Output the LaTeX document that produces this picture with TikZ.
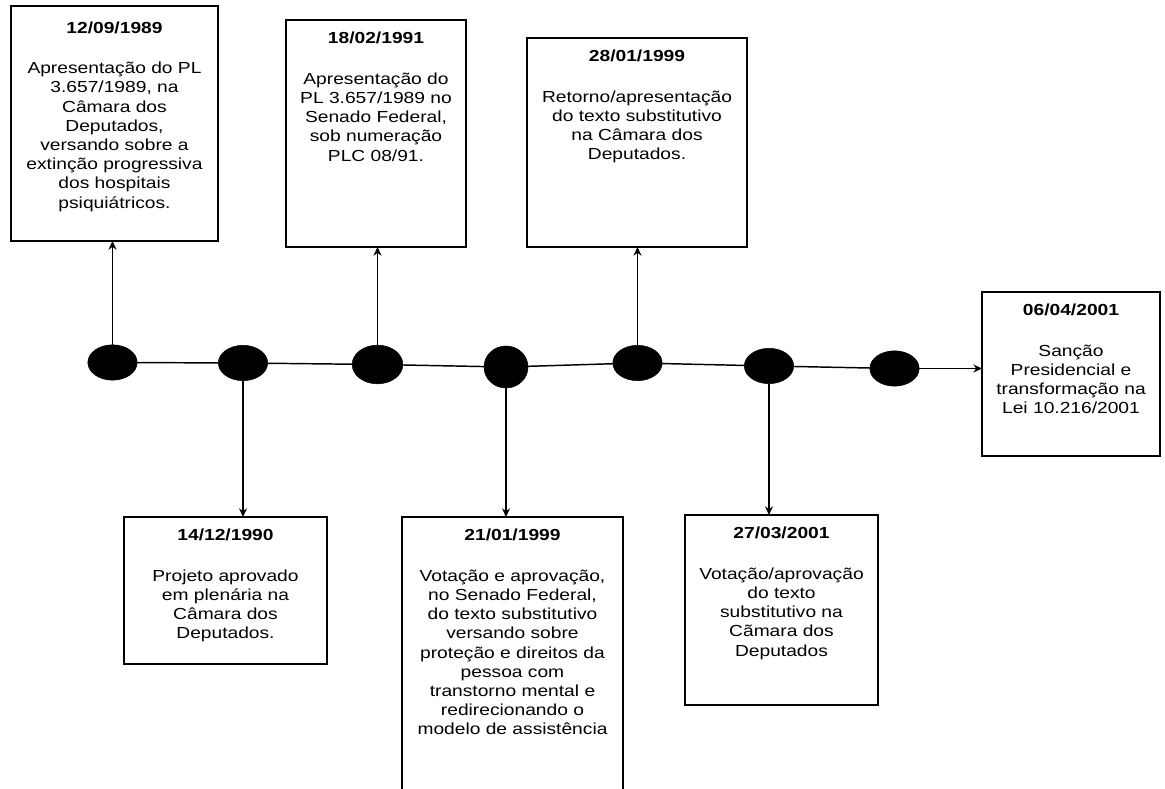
\documentclass[tikz,border=0pt]{standalone}
\usepackage{fontspec}
\setmainfont[FakeStretch=1.2]{Liberation Sans}
\usetikzlibrary{arrows.meta,positioning,shapes.geometric}

\begin{document}
\begin{tikzpicture}[
    x=0.75pt, y=0.75pt,
    evt/.style={draw, line width=1.1pt, fill=white, inner sep=0pt, outer sep=0pt},
    dot/.style={ellipse, draw, fill=black, inner sep=0pt, outer sep=0pt,
                minimum width=37pt, minimum height=26.5pt},
    txt/.style={align=center, inner sep=0pt, font=\fontsize{12pt}{14.4pt}\selectfont},
    link/.style={line width=1.1pt},
    arr/.style={line width=1.1pt, -{Stealth[length=6.5pt, width=6pt]}}
]
    \useasboundingbox (0,0) rectangle (1165,789);

    % linha do tempo
    \node[dot] (e1) at (112.5,426.5) {};
    \node[dot] (e2) at (243,426) {};
    \node[dot, minimum width=38pt, minimum height=29pt] (e3) at (377.5,424.5) {};
    \node[dot, minimum width=33pt, minimum height=31.5pt] (e4) at (506,422) {};
    \node[dot] (e5) at (637.5,426) {};
    \node[dot] (e6) at (769,423) {};
    \node[dot] (e7) at (894.5,420.5) {};

    % caixas de cima
    \node[evt, minimum width=155.25pt, minimum height=176.25pt] (b1) at (114.5,665.5) {};
    \node[txt, below=11.5pt of b1.north] (t1) {\textbf{12/09/1989}\\[16pt]
        Apresentação do PL\\3.657/1989, na\\Câmara dos\\Deputados,\\versando sobre a\\extinção progressiva\\dos hospitais\\psiquiátricos.};

    \node[evt, minimum width=135pt, minimum height=170.25pt] (b2) at (376,655.5) {};
    \node[txt, below=9pt of b2.north] (t2) {\textbf{18/02/1991}\\[16pt]
        Apresentação do\\PL 3.657/1989 no\\Senado Federal,\\sob numeração\\PLC 08/91.};

    \node[evt, minimum width=165pt, minimum height=156.75pt] (b3) at (637,646.5) {};
    \node[txt, below=9pt of b3.north] (t3) {\textbf{28/01/1999}\\[16pt]
        Retorno/apresentação\\do texto substitutivo\\na Câmara dos\\Deputados.};

    \node[evt, minimum width=133.5pt, minimum height=123pt] (b7) at (1071,415) {};
    \node[txt, below=9pt of b7.north] (t7) {\textbf{06/04/2001}\\[16pt]
        Sanção\\Presidencial e\\transformação na\\Lei 10.216/2001};

    % caixas de baixo
    \node[evt, minimum width=152.25pt, minimum height=110.25pt] (d1) at (225.5,198.5) {};
    \node[txt, below=9pt of d1.north] (s1) {\textbf{14/12/1990}\\[16pt]
        Projeto aprovado\\em plenária na\\Câmara dos\\Deputados.};

    \node[evt, minimum width=165.75pt, minimum height=212.25pt] (d2) at (512.5,130.5) {};
    \node[txt, below=9pt of d2.north] (s2) {\textbf{21/01/1999}\\[16pt]
        Votação e aprovação,\\no Senado Federal,\\do texto substitutivo\\versando sobre\\proteção e direitos da\\pessoa com\\transtorno mental e\\redirecionando o\\modelo de assistência};

    \node[evt, minimum width=144.75pt, minimum height=142.5pt] (d3) at (781.5,179) {};
    \node[txt, below=9pt of d3.north] (s3) {\textbf{27/03/2001}\\[16pt]
        Votação/aprovação\\do texto\\substitutivo na\\Cãmara dos\\Deputados};

    % ligacoes
    \draw[link] (e1) -- (e2);
    \draw[link] (e2) -- (e3);
    \draw[link] (e3) -- (e4);
    \draw[link] (e4) -- (e5);
    \draw[link] (e5) -- (e6);
    \draw[link] (e6) -- (e7);
    \draw[arr] (e7.east) -- (e7.east -| b7.west);

    \draw[arr] (e1.north) -- (e1.north |- b1.south);
    \draw[arr] (e3.north) -- (e3.north |- b2.south);
    \draw[arr] (e5.north) -- (e5.north |- b3.south);
    \draw[arr] (e2.south) -- (e2.south |- d1.north);
    \draw[arr] (e4.south) -- (e4.south |- d2.north);
    \draw[arr] (e6.south) -- (e6.south |- d3.north);
\end{tikzpicture}
\end{document}
